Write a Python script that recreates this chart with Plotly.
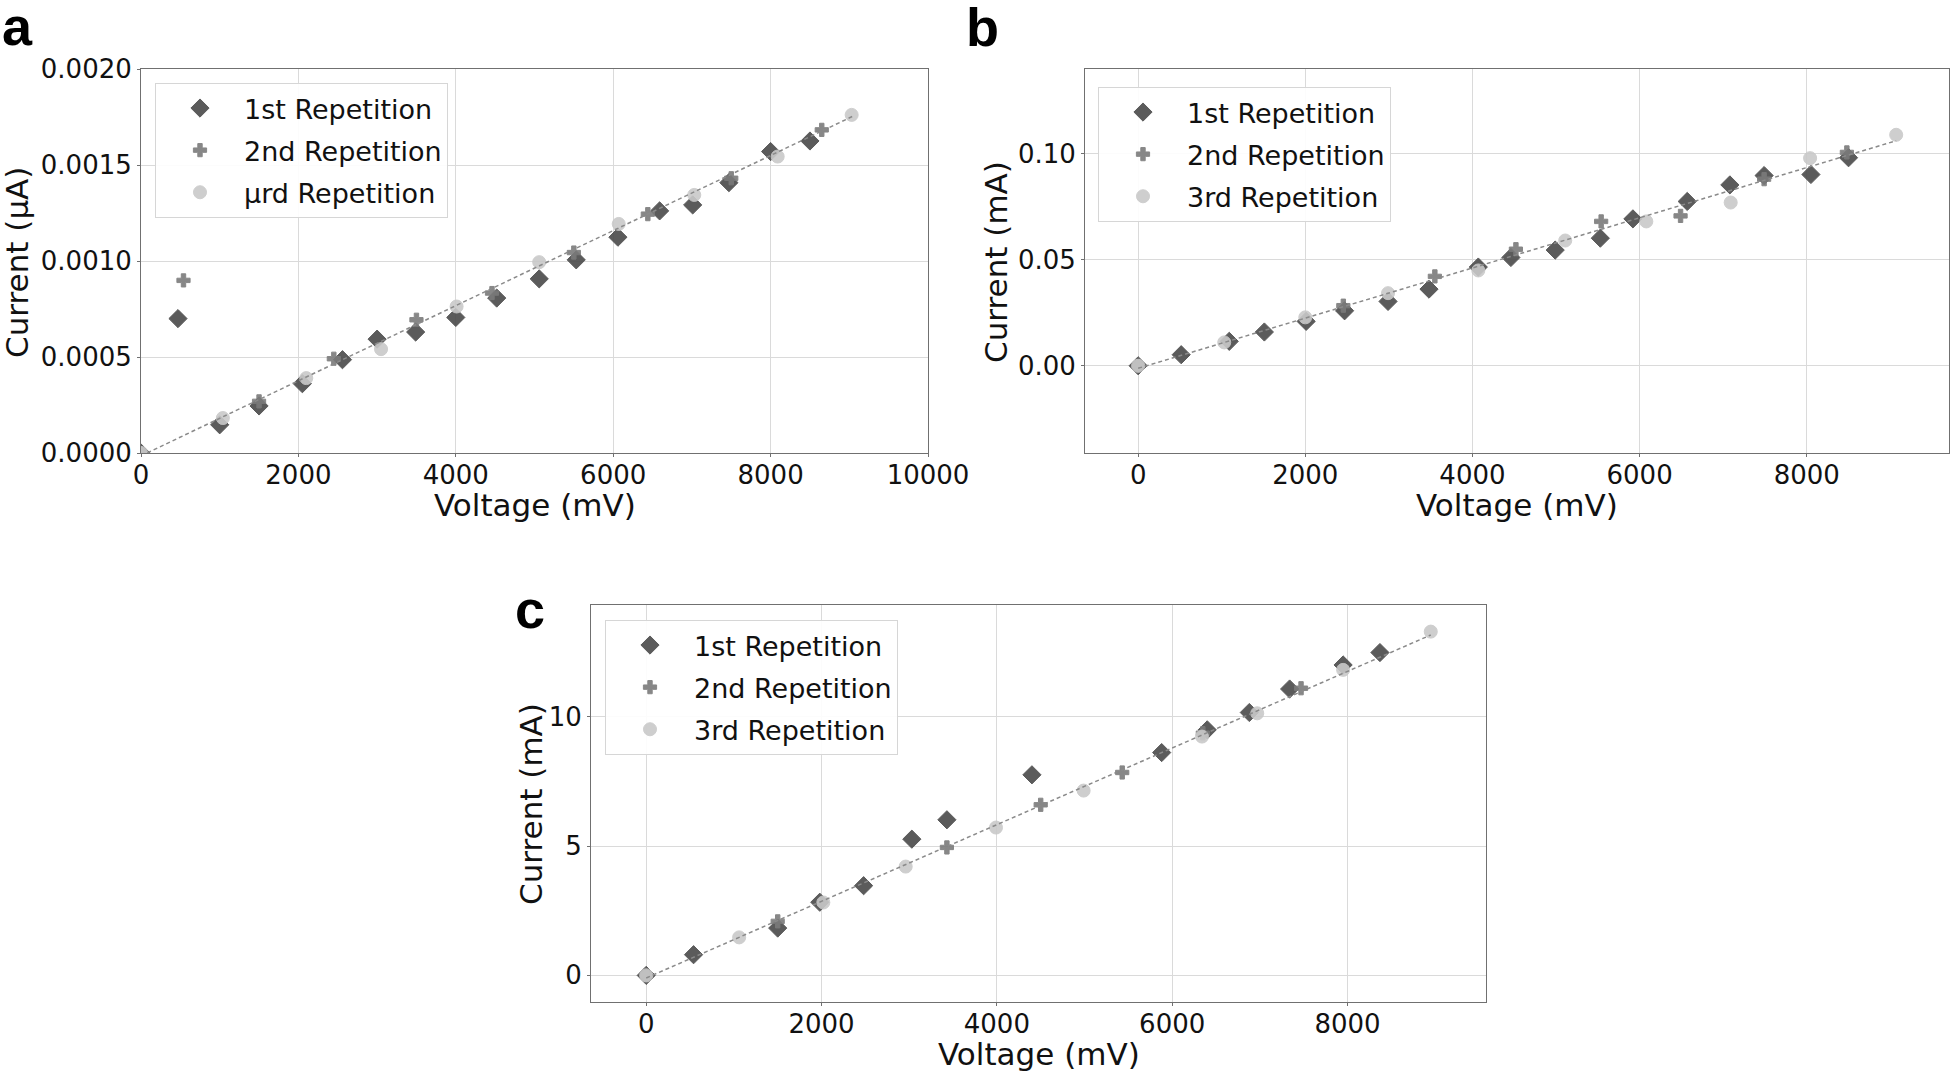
import plotly.graph_objects as go

W, H = 1953, 1072

# ---------------- data: panel a ----------------
a1_x = [0, 470, 1000, 1500, 2050, 2560, 3000, 3490, 4000, 4520, 5060, 5530, 6060, 6590, 7010, 7470, 8000, 8500]
a1_y = [0, 0.00070, 0.000147, 0.000245, 0.000361, 0.000486, 0.000593, 0.00063, 0.000706, 0.000807,
        0.000907, 0.001006, 0.001124, 0.001261, 0.001292, 0.001408, 0.00157, 0.001625]
a2_x = [0, 540, 1500, 2450, 3500, 4460, 5500, 6440, 7500, 8650]
a2_y = [0, 0.000899, 0.000269, 0.000491, 0.000694, 0.000833, 0.001044, 0.001244, 0.001431, 0.001683]
a3_x = [0, 1040, 2100, 3050, 4010, 5060, 6070, 7030, 8090, 9030]
a3_y = [0, 0.000182, 0.00039, 0.000541, 0.000763, 0.000994, 0.001193, 0.001344, 0.001544, 0.001761]
a_fit_x = [0, 9050]
a_fit_y = [-0.000015, 0.001755]

# ---------------- data: panel b ----------------
b1_x = [0, 515, 1090, 1510, 2010, 2470, 2990, 3480, 4070, 4460, 4990, 5530, 5920, 6570, 7080, 7490, 8050, 8500]
b1_y = [0, 0.0052, 0.0115, 0.0159, 0.0209, 0.0259, 0.0303, 0.0361, 0.0465, 0.051, 0.0545, 0.0601,
        0.0692, 0.0774, 0.0852, 0.0896, 0.0901, 0.098]
b2_x = [0, 2455, 3550, 4520, 5540, 6490, 7490, 8480]
b2_y = [0, 0.0283, 0.0421, 0.0549, 0.068, 0.0706, 0.0879, 0.1005]
b3_x = [0, 1030, 2000, 2990, 4070, 5110, 6080, 7090, 8040, 9070]
b3_y = [0, 0.011, 0.0228, 0.0342, 0.0449, 0.059, 0.068, 0.0769, 0.0978, 0.1088]
b_fit_x = [0, 9070]
b_fit_y = [-0.0012, 0.106]

# ---------------- data: panel c ----------------
c1_x = [0, 540, 1500, 1980, 2480, 3030, 3430, 4400, 5880, 6400, 6880, 7340, 7950, 8370]
c1_y = [0, 0.80, 1.83, 2.83, 3.47, 5.27, 6.02, 7.76, 8.62, 9.50, 10.17, 11.08, 12.01, 12.49]
c2_x = [0, 1500, 3430, 4500, 5430, 6350, 7470]
c2_y = [0, 2.09, 4.95, 6.60, 7.85, 9.37, 11.11]
c3_x = [0, 1060, 2020, 2960, 3990, 4990, 6340, 6970, 7950, 8950]
c3_y = [0, 1.47, 2.82, 4.21, 5.72, 7.15, 9.24, 10.14, 11.82, 13.30]
c_fit_x = [0, 8950]
c_fit_y = [-0.1, 13.17]

labels_a = ["1st Repetition", "2nd Repetition", "\u03bcrd Repetition"]
labels_bc = ["1st Repetition", "2nd Repetition", "3rd Repetition"]

FONT = "DejaVu Sans, Verdana, sans-serif"
BOLD = "Liberation Sans, Arial, sans-serif"
C1, C2, C3 = "#4a4a4a", "#7b7b7b", "#c9c9c9"
FITC = "#8a8a8a"

fig = go.Figure()

def add_panel(xs, ys, labels, fit_x, fit_y, xa, ya, leg):
    styles = [
        dict(symbol="diamond", size=14, color=C1),
        dict(symbol="cross", size=11, color=C2),
        dict(symbol="circle", size=13, color=C3),
    ]
    for i, (x, y, lab, st) in enumerate(zip(xs, ys, labels, styles)):
        fig.add_trace(go.Scatter(
            x=x, y=y, mode="markers", name=lab,
            marker=dict(symbol=st["symbol"], size=st["size"], color=st["color"], opacity=0.9,
                        line=dict(width=1, color=st["color"])),
            xaxis=xa, yaxis=ya, legend=leg, legendgroup=f"{leg}_{i}", showlegend=True,
        ))
    fig.add_trace(go.Scatter(
        x=fit_x, y=fit_y, mode="lines", line=dict(color=FITC, width=1.5, dash="4px,3px"),
        xaxis=xa, yaxis=ya, showlegend=False, hoverinfo="skip",
    ))

add_panel([a1_x, a2_x, a3_x], [a1_y, a2_y, a3_y], labels_a, a_fit_x, a_fit_y, "x", "y", "legend")
add_panel([b1_x, b2_x, b3_x], [b1_y, b2_y, b3_y], labels_bc, b_fit_x, b_fit_y, "x2", "y2", "legend2")
add_panel([c1_x, c2_x, c3_x], [c1_y, c2_y, c3_y], labels_bc, c_fit_x, c_fit_y, "x3", "y3", "legend3")

def px_x(p):
    return p / W

def px_y(p):
    return 1 - p / H

axis_common = dict(
    showgrid=True, gridcolor="#dadada", gridwidth=1,
    showline=True, mirror=True, linecolor="#707070", linewidth=1,
    ticks="outside", ticklen=3, tickcolor="#707070", tickwidth=1,
    tickfont=dict(family=FONT, size=26, color="#111111"),
    zeroline=False, automargin=False,
)
xonly = dict(ticklabelstandoff=-4)

fig.update_layout(
    xaxis=dict(domain=[px_x(141), px_x(928)], range=[0, 10000], dtick=2000, tick0=0, tickformat="d", anchor="y", **xonly, **axis_common),
    yaxis=dict(domain=[px_y(453), px_y(69)], range=[0, 0.002], dtick=0.0005, tick0=0, tickformat=".4f", anchor="x", **axis_common),
    xaxis2=dict(domain=[px_x(1085), px_x(1949)], range=[-636, 9702], dtick=2000, tick0=0, tickformat="d", anchor="y2", **xonly, **axis_common),
    yaxis2=dict(domain=[px_y(453), px_y(69)], range=[-0.0411, 0.1398], dtick=0.05, tick0=0, tickformat=".2f", anchor="x2", **axis_common),
    xaxis3=dict(domain=[px_x(591), px_x(1486)], range=[-630, 9580], dtick=2000, tick0=0, tickformat="d", anchor="y3", **xonly, **axis_common),
    yaxis3=dict(domain=[px_y(1002), px_y(605)], range=[-1.03, 14.33], dtick=5, tick0=0, tickformat="d", anchor="x3", **axis_common),
)

legend_common = dict(
    bgcolor="rgba(255,255,255,0.9)", bordercolor="#d6d6d6", borderwidth=1,
    font=dict(family=FONT, size=27, color="#111111"),
    xanchor="left", yanchor="top", tracegroupgap=4, itemwidth=78,
    itemclick=False,
)
fig.update_layout(
    legend=dict(x=px_x(155), y=px_y(83), **legend_common),
    legend2=dict(x=px_x(1098), y=px_y(87), **legend_common),
    legend3=dict(x=px_x(605), y=px_y(620), **legend_common),
)

annots = []
def title_ann(text, x, y, angle=0):
    annots.append(dict(text=text, x=px_x(x), y=px_y(y), xref="paper", yref="paper",
                       showarrow=False, textangle=angle, xanchor="center", yanchor="middle",
                       font=dict(family=FONT, size=31, color="#111111")))

title_ann("Voltage (mV)", 534.5, 505)
title_ann("Current (\u03bcA)", 17, 263, -90)
title_ann("Voltage (mV)", 1517, 505)
title_ann("Current (mA)", 996, 262, -90)
title_ann("Voltage (mV)", 1038.5, 1054)
title_ann("Current (mA)", 531, 804, -90)

for letter, x, y in [("a", 0, 26), ("b", 964, 27), ("c", 513, 609)]:
    annots.append(dict(text=f"<b>{letter}</b>", x=px_x(x), y=px_y(y), xref="paper", yref="paper",
                       showarrow=False, xanchor="left", yanchor="middle",
                       font=dict(family=BOLD, size=54, color="#000000")))

fig.update_layout(
    annotations=annots,
    width=W, height=H,
    margin=dict(l=0, r=0, t=0, b=0),
    paper_bgcolor="white", plot_bgcolor="white",
    template="none",
    showlegend=True,
)

fig.write_html("out.html", config={"displayModeBar": False},
               post_script="document.body.style.margin='0';")
